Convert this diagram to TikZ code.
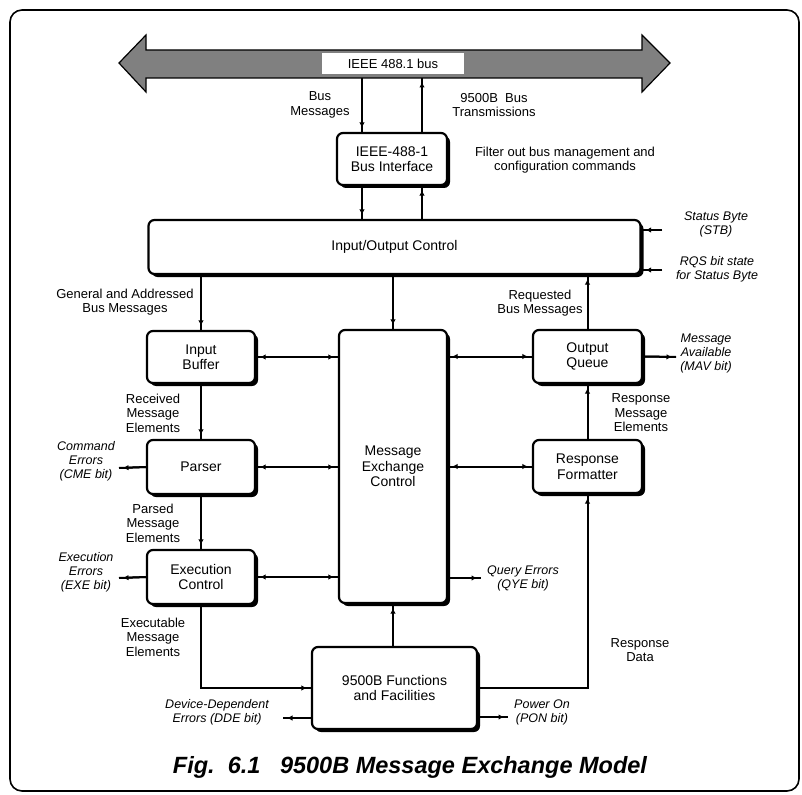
\documentclass[tikz,border=0pt]{standalone}
\usepackage{fontspec}
\setmainfont{Liberation Sans}
\usetikzlibrary{arrows.meta,shadows}
\begin{document}
\begin{tikzpicture}[x=1pt,y=-1pt,
  box/.style={draw, line width=2.2pt, rounded corners=6pt, fill=white,
    drop shadow={opacity=1, shadow xshift=3pt, shadow yshift=-3pt, fill=black},
    font=\fontsize{14}{15.5}\selectfont, align=center, inner sep=0pt},
  lbl/.style={font=\fontsize{13}{14.5}\selectfont, align=center, inner sep=0pt},
  ilbl/.style={font=\fontsize{12.5}{14}\selectfont\itshape, align=center, inner sep=0pt},
  conn/.style={line width=2pt},
  arr/.style={conn, postaction={draw, -{Latex[length=5.5pt,width=5.5pt]}, shorten >=4pt}},
  darr/.style={conn, postaction={draw, {Latex[length=5.5pt,width=5.5pt]}-{Latex[length=5.5pt,width=5.5pt]}, shorten >=4pt, shorten <=4pt}}]
\useasboundingbox (0,0) rectangle (802,794);
% frame
\draw[line width=1.6pt, rounded corners=12pt] (10,10) rectangle (799,791);
% bus
\draw[line width=1.2pt, fill=black!50] (119,63) -- (146,35) -- (146,50) -- (642,50) -- (642,35) -- (670,63) -- (642,92) -- (642,78) -- (146,78) -- (146,92) -- cycle;
\node[fill=white, minimum width=142pt, minimum height=21pt, inner sep=0pt, font=\fontsize{13}{14}\selectfont] (buslbl) at (393,63.5) {IEEE 488.1 bus};
\coordinate (busA) at (362,78);
\coordinate (busB) at (422,78);
% boxes
\node[box, minimum width=110pt, minimum height=52pt] (iface) at (392,159) {IEEE-488-1\\Bus Interface};
\node[box, minimum width=492pt, minimum height=54pt] (ioc) at (394.5,247) {Input/Output Control};
\node[box, minimum width=108pt, minimum height=52pt] (ib) at (201,357) {Input\\Buffer};
\node[box, minimum width=108pt, minimum height=54pt] (parser) at (201,467) {Parser};
\node[box, minimum width=108pt, minimum height=54pt] (exec) at (201,577) {Execution\\Control};
\node[box, minimum width=108pt, minimum height=273pt] (mec) at (393,466.5) {Message\\Exchange\\Control};
\node[box, minimum width=109pt, minimum height=53pt] (oq) at (587.5,356.5) {Output\\Queue};
\node[box, minimum width=109pt, minimum height=53pt] (rf) at (587.5,466.5) {Response\\Formatter};
\node[box, minimum width=165pt, minimum height=82pt] (fun) at (394.5,688) {9500B Functions\\and Facilities};
% free ends
\coordinate (stb) at (662,230);
\coordinate (rqs) at (662,270);
\coordinate (mav) at (676,357);
\coordinate (cme) at (119,468);
\coordinate (exe) at (119,578);
\coordinate (qye) at (481,578);
\coordinate (dde) at (283,718);
\coordinate (pon) at (508,717);
% connectors
\draw[arr] (busA) -- (busA |- iface.north);
\draw[arr] (busB |- iface.north) -- (busB);
\draw[arr] (busA |- iface.south) -- (busA |- ioc.north);
\draw[arr] (busB |- ioc.north) -- (busB |- iface.south);
\draw[arr] (ib |- ioc.south) -- (ib.north);
\draw[arr] (mec |- ioc.south) -- (mec.north);
\draw[arr] (oq.north) -- (oq |- ioc.south);
\draw[arr] (ib.south) -- (parser.north);
\draw[arr] (parser.south) -- (exec.north);
\draw[arr] (rf.north) -- (oq.south);
\draw[darr] (ib.east) -- (ib.east -| mec.west);
\draw[darr] (parser.east) -- (parser.east -| mec.west);
\draw[darr] (exec.east) -- (exec.east -| mec.west);
\draw[darr] (mec.east |- oq.west) -- (oq.west);
\draw[darr] (mec.east |- rf.west) -- (rf.west);
\draw[arr] (exec.south) |- (fun.west);
\draw[arr] (mec |- fun.north) -- (mec.south);
\draw[arr] (fun.east) -| (rf.south);
\draw[arr] (stb) -- (stb -| ioc.east);
\draw[arr] (rqs) -- (rqs -| ioc.east);
\draw[arr] (oq.east) -- (mav);
\draw[arr] (parser.west) -- (cme);
\draw[arr] (exec.west) -- (exe);
\draw[arr] (mec.east |- qye) -- (qye);
\draw[arr] (fun.west |- dde) -- (dde);
\draw[arr] (fun.east |- pon) -- (pon);
% labels
\node[lbl] (lBusMsg) at (320,105) {Bus\\Messages};
\node[lbl] (lBusTx) at (494,105) {9500B\ \ Bus\\Transmissions};
\node[lbl] (lFilter) at (565,160) {Filter out bus management and\\configuration commands};
\node[lbl] (lGen) at (125,302) {General and Addressed\\Bus Messages};
\node[lbl] (lReq) at (540,303) {Requested\\Bus Messages};
\node[lbl] (lRecv) at (153,413) {Received\\Message\\Elements};
\node[lbl] (lParsed) at (153,523) {Parsed\\Message\\Elements};
\node[lbl] (lExecut) at (153,637) {Executable\\Message\\Elements};
\node[lbl] (lRespMsg) at (641,413) {Response\\Message\\Elements};
\node[lbl] (lRespData) at (640,650) {Response\\Data};
\node[ilbl] (lCME) at (86,461) {Command\\Errors\\(CME bit)};
\node[ilbl] (lEXE) at (86,572) {Execution\\Errors\\(EXE bit)};
\node[ilbl] (lDDE) at (217,712) {Device-Dependent\\Errors (DDE bit)};
\node[ilbl] (lSTB) at (716,224) {Status Byte\\(STB)};
\node[ilbl] (lRQS) at (717,269) {RQS bit state\\for Status Byte};
\node[ilbl] (lMAV) at (706,353) {Message\\Available\\(MAV bit)};
\node[ilbl] (lQYE) at (523,578) {Query Errors\\(QYE bit)};
\node[ilbl] (lPON) at (542,712) {Power On\\(PON bit)};
\node[font=\fontsize{23.5}{26}\selectfont\bfseries\itshape, inner sep=0pt] (cap) at (410,767) {Fig.\ \ 6.1\ \ \ 9500B Message Exchange Model};
\end{tikzpicture}
\end{document}
